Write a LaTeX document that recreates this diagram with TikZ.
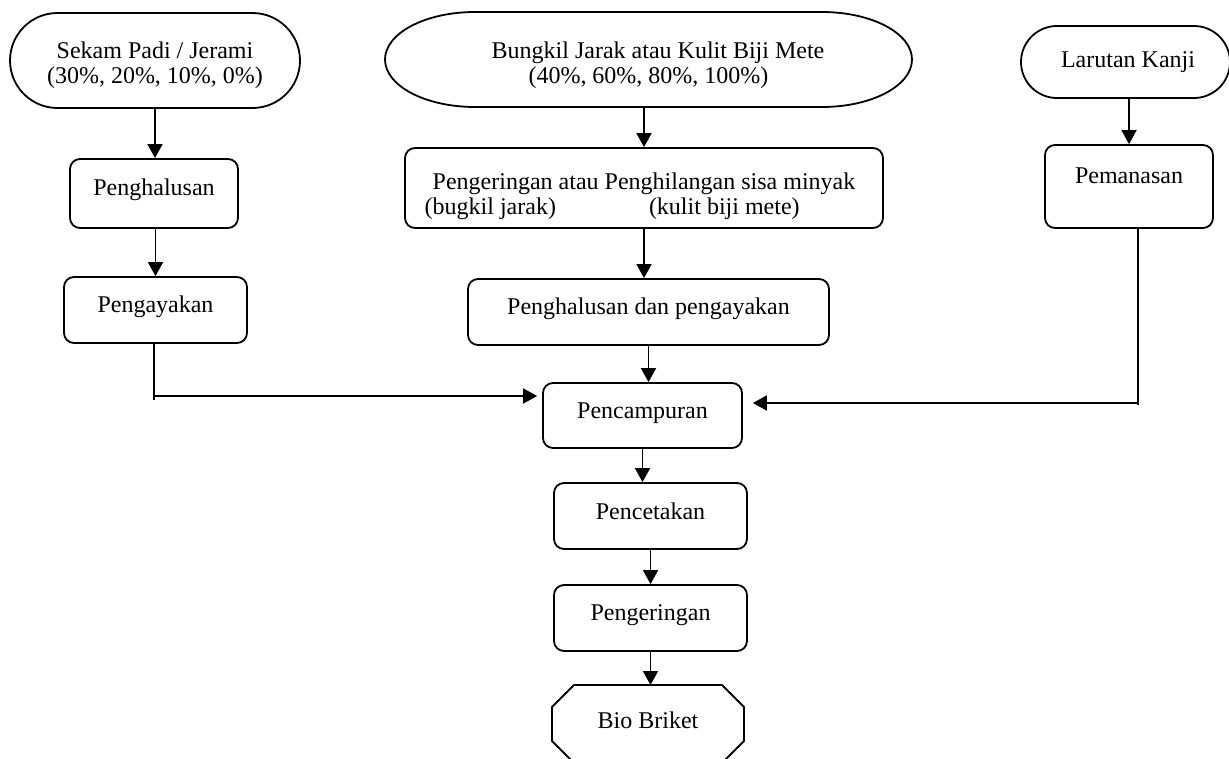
\documentclass[tikz,border=0pt]{standalone}
\usepackage{fontspec}
\setmainfont{Liberation Serif}
\usetikzlibrary{arrows.meta,shapes.misc,calc}
\tikzset{
  base/.style={font=\fontsize{24}{25}\selectfont, line width=1.8pt, inner sep=0pt, text height=16pt},
  box/.style={base, draw, rectangle, rounded corners=10pt, text depth=11pt},
  term/.style={base, draw, rounded rectangle},
  plainbox/.style={base, rectangle, outer sep=0pt},
  arr/.style={line width=1.8pt, -{Triangle[width=15pt,length=14pt]}},
  ln/.style={line width=1.8pt},
}
\begin{document}
\begin{tikzpicture}[x=1pt,y=-1pt]
\useasboundingbox (0,0) rectangle (1229,758);

% left column
\node[term, minimum width=290pt, minimum height=95pt, text depth=21pt] (sekam) at (155,60.5)
  {\begin{tabular}[t]{@{}c@{}}Sekam Padi / Jerami\\(30\%, 20\%, 10\%, 0\%)\end{tabular}};
\node[box, minimum width=168pt, minimum height=69pt, text depth=13pt] (ph1) at (154,193.5) {Penghalusan};
\node[box, minimum width=183pt, minimum height=66pt, text depth=11pt] (pa) at (155.5,310) {Pengayakan};

% middle column
\node[plainbox, minimum width=527pt, minimum height=95pt, text depth=19pt] (bungkil) at (648.5,59.5)
  {\begin{tabular}[t]{@{}c@{}}\hspace*{19pt}Bungkil Jarak atau Kulit Biji Mete\\(40\%, 60\%, 80\%, 100\%)\end{tabular}};
\draw[ln] ([xshift=90pt]bungkil.north west) -- ([xshift=-90pt]bungkil.north east)
  arc[start angle=90,end angle=-90,x radius=90pt,y radius=47.5pt]
  -- ([xshift=90pt]bungkil.south west)
  arc[start angle=270,end angle=90,x radius=90pt,y radius=47.5pt] -- cycle;
\node[box, minimum width=478pt, minimum height=80pt, text depth=14pt] (pm) at (644,188)
  {\begin{tabular}[t]{@{}l@{}}Pengeringan atau Penghilangan sisa minyak\\\hspace*{-8pt}(bugkil jarak)\hspace{93pt}(kulit biji mete)\end{tabular}};
\node[box, minimum width=361pt, minimum height=66pt, text depth=12pt] (phdp) at (648.5,312) {Penghalusan dan pengayakan};
\node[box, minimum width=199pt, minimum height=65pt, text depth=11pt] (pc) at (642.5,415.5) {Pencampuran};
\node[box, minimum width=193pt, minimum height=66pt, text depth=10pt] (pct) at (650.5,516) {Pencetakan};
\node[box, minimum width=193pt, minimum height=66pt, text depth=12pt] (pg) at (650.5,618) {Pengeringan};
\node[plainbox, minimum width=192pt, minimum height=78pt, text depth=8pt] (bio) at (648,724) {Bio Briket};
\draw[ln] ([xshift=22pt]bio.north west) -- ([xshift=-22pt]bio.north east)
  -- ([yshift=-22pt]bio.north east) -- ([yshift=22pt]bio.south east)
  -- ([xshift=-22pt]bio.south east) -- ([xshift=22pt]bio.south west)
  -- ([yshift=22pt]bio.south west) -- ([yshift=-22pt]bio.north west) -- cycle;

% right column
\node[term, minimum width=209pt, minimum height=72pt, text depth=6pt] (larutan) at (1125.5,62) {\hspace*{5pt}Larutan Kanji};
\node[box, minimum width=168pt, minimum height=83pt, text depth=23pt] (pem) at (1129,186.5) {Pemanasan};

% connectors
\draw[arr] (sekam.south) -- (sekam.south |- ph1.north);
\draw[arr] (pa.north |- ph1.south) -- (pa.north);
\coordinate (lc) at (154,400);
\coordinate (lh) at (154,396);
\draw[ln] (pa.south -| lc) -- (lc);
\draw[arr, shorten >=5pt] (lh) -- (pc.west |- lh);

\draw[arr] (bungkil.south -| pm.north) -- (pm.north);
\draw[arr] (pm.south) -- (pm.south |- phdp.north);
\draw[arr] (phdp.south) -- (phdp.south |- pc.north);
\draw[arr] (pc.south) -- (pc.south |- pct.north);
\draw[arr] (pct.south) -- (pg.north);
\draw[arr] (pg.south) -- (pg.south |- bio.north);

\draw[arr] (pem.north |- larutan.south) -- (pem.north);
\coordinate (rc) at (1138,405);
\coordinate (rh) at (1138,403);
\draw[ln] (pem.south -| rc) -- (rc);
\draw[arr, shorten >=10pt] (rh) -- (pc.east |- rh);
\end{tikzpicture}
\end{document}
